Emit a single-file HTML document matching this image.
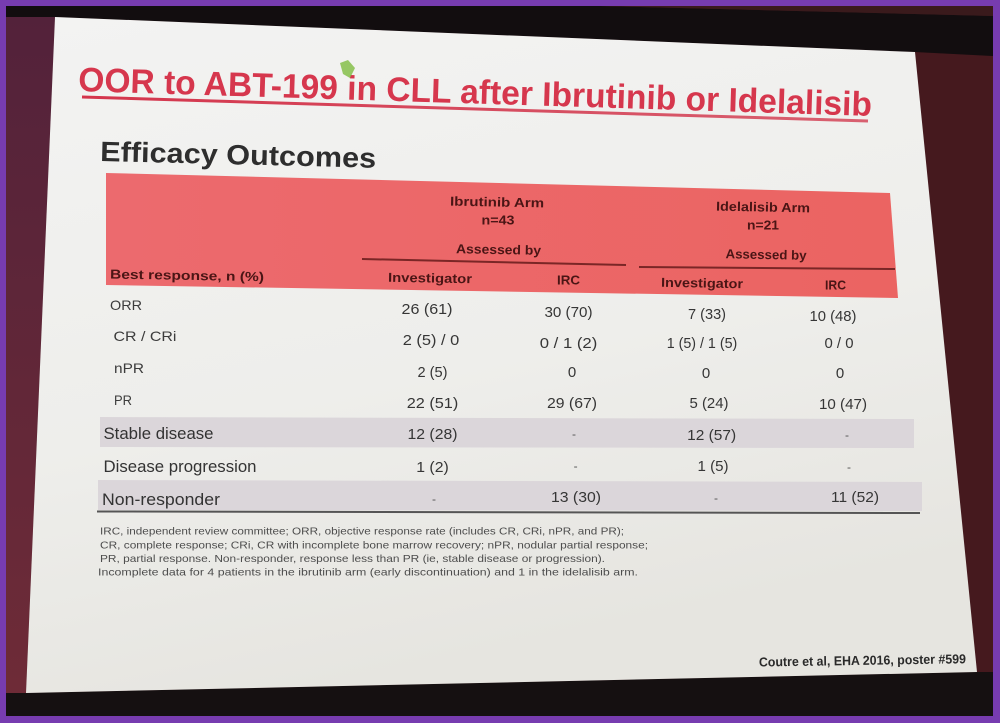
<!DOCTYPE html>
<html><head><meta charset="utf-8"><style>
html,body{margin:0;padding:0;background:#773cb0;}
svg{display:block;}
text{font-family:"Liberation Sans",sans-serif;}
</style></head><body>
<svg width="1000" height="723" viewBox="0 0 1000 723" xmlns="http://www.w3.org/2000/svg">
<defs>
<linearGradient id="sl" x1="0" y1="0" x2="0.3" y2="1">
<stop offset="0" stop-color="#f3f3f2"/><stop offset="0.6" stop-color="#eeeeeb"/><stop offset="1" stop-color="#e6e5e0"/>
</linearGradient>
<linearGradient id="lf" x1="0" y1="0" x2="0" y2="1">
<stop offset="0" stop-color="#53223a"/><stop offset="1" stop-color="#6e2b37"/>
</linearGradient>
<linearGradient id="ul" x1="0" y1="0" x2="1" y2="0">
<stop offset="0" stop-color="#d4354c"/><stop offset="1" stop-color="#d86070"/>
</linearGradient>
<linearGradient id="hd" x1="0" y1="0" x2="1" y2="0">
<stop offset="0" stop-color="#ec6a6e"/><stop offset="1" stop-color="#eb6462"/>
</linearGradient>
</defs>
<rect x="0" y="0" width="1000" height="723" fill="#773cb0"/>
<rect x="6" y="6" width="987" height="710" rx="5" fill="#3a171c"/>
<polygon points="6,17 55,17 26,693 6,693" fill="url(#lf)"/>
<polygon points="915,52 993,56 993,672 977,672" fill="#45191e"/>
<polygon points="6,6 600,6 993,16 993,56 915,52 55,17 6,17" fill="#120d0f"/>
<polygon points="600,6 993,6 993,16" fill="#3a1a1c"/>
<polygon points="6,693 26,693 977,672 993,672 993,716 6,716" fill="#151011"/>
<polygon points="55,17 915,52 977,672 26,693" fill="url(#sl)"/>

<!-- title -->
<text x="78" y="91" font-size="34" font-weight="bold" fill="#d6374d" textLength="794" lengthAdjust="spacingAndGlyphs" transform="rotate(1.8 78 91)">OOR to ABT-199 in CLL after Ibrutinib or Idelalisib</text>
<line x1="82" y1="97" x2="868" y2="121" stroke="url(#ul)" stroke-width="3"/>
<polygon points="340,63 348,60 355,68 350,78 343,74" fill="#86c04a" opacity="0.85"/>

<text x="100" y="161" font-size="28" font-weight="bold" fill="#2e2e2e" textLength="276" lengthAdjust="spacingAndGlyphs" transform="rotate(1.4 100 161)">Efficacy Outcomes</text>

<!-- header -->
<polygon points="106,173 890,193 898,298 106,285" fill="url(#hd)"/>
<g font-size="13" font-weight="bold" fill="#4a1515" text-anchor="middle">
<text x="497" y="206.5" textLength="94" lengthAdjust="spacingAndGlyphs" transform="rotate(1.1 497 206)">Ibrutinib Arm</text>
<text x="498" y="224.5" textLength="33" lengthAdjust="spacingAndGlyphs">n=43</text>
<text x="498.5" y="254" textLength="85" lengthAdjust="spacingAndGlyphs" transform="rotate(1.1 498 254)">Assessed by</text>
<text x="763" y="211.5" textLength="94" lengthAdjust="spacingAndGlyphs" transform="rotate(1.1 763 211)">Idelalisib Arm</text>
<text x="763" y="229.5" textLength="32" lengthAdjust="spacingAndGlyphs">n=21</text>
<text x="766" y="259" textLength="81" lengthAdjust="spacingAndGlyphs" transform="rotate(1.1 766 259)">Assessed by</text>
<text x="430" y="282.5" textLength="84" lengthAdjust="spacingAndGlyphs" transform="rotate(1 430 282)">Investigator</text>
<text x="568.5" y="284.5" textLength="23" lengthAdjust="spacingAndGlyphs">IRC</text>
<text x="702" y="287.5" textLength="82" lengthAdjust="spacingAndGlyphs" transform="rotate(1 702 287)">Investigator</text>
<text x="835.5" y="289.5" textLength="21" lengthAdjust="spacingAndGlyphs">IRC</text>
<text x="110" y="278.5" text-anchor="start" textLength="154" lengthAdjust="spacingAndGlyphs" transform="rotate(1 110 278)">Best response, n (%)</text>
</g>
<line x1="362" y1="259" x2="626" y2="265" stroke="#7a2626" stroke-width="2"/>
<line x1="639" y1="267" x2="895" y2="269" stroke="#7a2626" stroke-width="2"/>

<!-- bands -->
<polygon points="100,417 914,419 914,448 100,447" fill="#dbd6da"/>
<polygon points="98,480 922,482 922,511 98,510" fill="#dbd6da"/>
<line x1="97" y1="511.5" x2="920" y2="513" stroke="#555" stroke-width="2"/>

<!-- body -->
<g font-size="14" fill="#3c3c3c">
<text x="110" y="310" textLength="32" lengthAdjust="spacingAndGlyphs">ORR</text>
<text x="113.5" y="341" textLength="63" lengthAdjust="spacingAndGlyphs">CR / CRi</text>
<text x="114" y="373" textLength="30" lengthAdjust="spacingAndGlyphs">nPR</text>
<text x="114" y="405" textLength="18" lengthAdjust="spacingAndGlyphs">PR</text>
</g>
<g font-size="16.5" fill="#333">
<text x="103.5" y="439" textLength="110" lengthAdjust="spacingAndGlyphs">Stable disease</text>
<text x="103.5" y="472" textLength="153" lengthAdjust="spacingAndGlyphs">Disease progression</text>
<text x="102" y="505" textLength="118" lengthAdjust="spacingAndGlyphs">Non-responder</text>
</g>
<g font-size="15" fill="#363636" text-anchor="middle">
<text x="427" y="314" textLength="51" lengthAdjust="spacingAndGlyphs">26 (61)</text>
<text x="568.5" y="317" textLength="48" lengthAdjust="spacingAndGlyphs">30 (70)</text>
<text x="707" y="319" textLength="38" lengthAdjust="spacingAndGlyphs">7 (33)</text>
<text x="833" y="321" textLength="47" lengthAdjust="spacingAndGlyphs">10 (48)</text>

<text x="431" y="345" textLength="56.5" lengthAdjust="spacingAndGlyphs">2 (5) / 0</text>
<text x="568.5" y="348" textLength="57.5" lengthAdjust="spacingAndGlyphs">0 / 1 (2)</text>
<text x="702" y="348" textLength="70.6" lengthAdjust="spacingAndGlyphs">1 (5) / 1 (5)</text>
<text x="839" y="348" textLength="29" lengthAdjust="spacingAndGlyphs">0 / 0</text>

<text x="432.5" y="377" textLength="30" lengthAdjust="spacingAndGlyphs">2 (5)</text>
<text x="572" y="377">0</text>
<text x="706" y="378">0</text>
<text x="840" y="378">0</text>

<text x="432.5" y="408" textLength="51.5" lengthAdjust="spacingAndGlyphs">22 (51)</text>
<text x="572" y="408" textLength="50" lengthAdjust="spacingAndGlyphs">29 (67)</text>
<text x="709" y="408" textLength="39" lengthAdjust="spacingAndGlyphs">5 (24)</text>
<text x="843" y="409" textLength="48" lengthAdjust="spacingAndGlyphs">10 (47)</text>

<text x="432.5" y="439" textLength="50" lengthAdjust="spacingAndGlyphs">12 (28)</text>
<text x="711.6" y="440" textLength="49" lengthAdjust="spacingAndGlyphs">12 (57)</text>

<text x="432.5" y="472" textLength="32.5" lengthAdjust="spacingAndGlyphs">1 (2)</text>
<text x="713" y="471" textLength="31" lengthAdjust="spacingAndGlyphs">1 (5)</text>

<text x="576" y="502" textLength="50" lengthAdjust="spacingAndGlyphs">13 (30)</text>
<text x="855" y="502" textLength="48" lengthAdjust="spacingAndGlyphs">11 (52)</text>
</g>
<g font-size="12" fill="#555" text-anchor="middle">
<text x="574" y="438">-</text>
<text x="847" y="439">-</text>
<text x="575.6" y="470">-</text>
<text x="849" y="471">-</text>
<text x="434" y="503">-</text>
<text x="716" y="502">-</text>
</g>

<!-- footnote -->
<g font-size="10.5" fill="#4d4d4d">
<text x="100" y="534.5" textLength="524" lengthAdjust="spacingAndGlyphs">IRC, independent review committee; ORR, objective response rate (includes CR, CRi, nPR, and PR);</text>
<text x="100" y="548.5" textLength="548" lengthAdjust="spacingAndGlyphs">CR, complete response; CRi, CR with incomplete bone marrow recovery; nPR, nodular partial response;</text>
<text x="100" y="562" textLength="505" lengthAdjust="spacingAndGlyphs">PR, partial response. Non-responder, response less than PR (ie, stable disease or progression).</text>
<text x="98" y="575.5" textLength="540" lengthAdjust="spacingAndGlyphs">Incomplete data for 4 patients in the ibrutinib arm (early discontinuation) and 1 in the idelalisib arm.</text>
</g>

<text x="759" y="666.5" font-size="13" font-weight="bold" fill="#2a2a2a" textLength="207" lengthAdjust="spacingAndGlyphs" transform="rotate(-0.9 759 666)">Coutre et al, EHA 2016, poster #599</text>
</svg>
</body></html>
